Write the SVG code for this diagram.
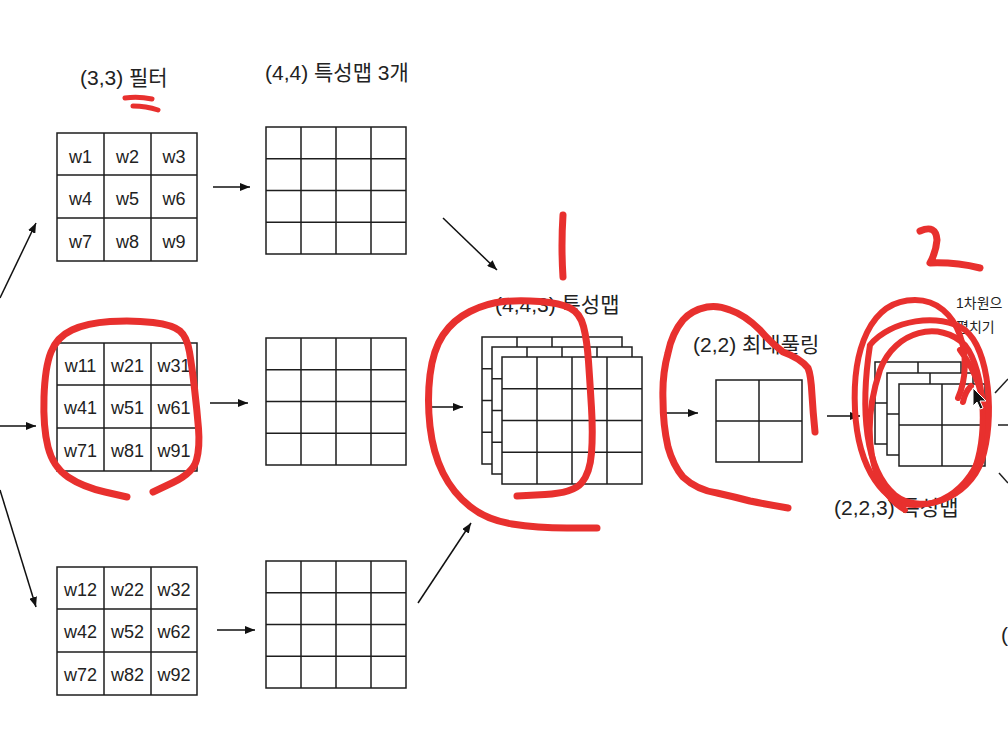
<svg xmlns="http://www.w3.org/2000/svg" xmlns:xlink="http://www.w3.org/1999/xlink" width="1008" height="744" viewBox="0 0 1008 744">
<style>
.t{font-family:"Liberation Sans","Noto Sans CJK KR",sans-serif;fill:#222}
.lbl{font-size:21px}
.cell{font-size:18px;text-anchor:middle}
.sm{font-size:14px}
.gl{fill:#fff;stroke:#1e1e1e;stroke-width:1.5}
.ln{stroke:#1e1e1e;stroke-width:1.5;fill:none}
.con{stroke:#111;stroke-width:1.5;fill:none;marker-end:url(#ah)}
.red{stroke:#e8302e;stroke-width:7;fill:none;stroke-linecap:round;stroke-linejoin:round}
</style>
<defs>
<marker id="ah" viewBox="0 0 10 8" refX="10" refY="4" markerWidth="10" markerHeight="8" markerUnits="userSpaceOnUse" orient="auto">
<path d="M0,0 L10,4 L0,8 Z" fill="#111"/>
</marker>
<g id="g44">
<rect class="gl" x="0" y="0" width="140" height="127"/>
<path class="ln" d="M35,0V127M70,0V127M105,0V127M0,31.75H140M0,63.5H140M0,95.25H140"/>
</g>
<g id="g22">
<rect class="gl" x="0" y="0" width="86" height="82"/>
<path class="ln" d="M43,0V82M0,41H86"/>
</g>
<g id="g33">
<rect class="gl" x="0" y="0" width="140" height="128"/>
<path class="ln" d="M47,0V128M94,0V128M0,42H140M0,85H140"/>
</g>
</defs>
<rect width="1008" height="744" fill="#fff"/>

<g id="titles">
<text class="t lbl" x="80" y="85">(3,3) 필터</text>
<text class="t lbl" x="265" y="80">(4,4) 특성맵 3개</text>
</g>

<g id="filter1">
<use xlink:href="#g33" x="57" y="133"/>
<text class="t cell" x="80.5" y="163">w1</text><text class="t cell" x="127.5" y="163">w2</text><text class="t cell" x="174" y="163">w3</text>
<text class="t cell" x="80.5" y="205">w4</text><text class="t cell" x="127.5" y="205">w5</text><text class="t cell" x="174" y="205">w6</text>
<text class="t cell" x="80.5" y="248">w7</text><text class="t cell" x="127.5" y="248">w8</text><text class="t cell" x="174" y="248">w9</text>
</g>
<g id="filter2">
<use xlink:href="#g33" x="57" y="343"/>
<text class="t cell" x="80.5" y="372">w11</text><text class="t cell" x="127.5" y="372">w21</text><text class="t cell" x="174" y="372">w31</text>
<text class="t cell" x="80.5" y="414">w41</text><text class="t cell" x="127.5" y="414">w51</text><text class="t cell" x="174" y="414">w61</text>
<text class="t cell" x="80.5" y="457">w71</text><text class="t cell" x="127.5" y="457">w81</text><text class="t cell" x="174" y="457">w91</text>
</g>
<g id="filter3">
<use xlink:href="#g33" x="57" y="567"/>
<text class="t cell" x="80.5" y="596">w12</text><text class="t cell" x="127.5" y="596">w22</text><text class="t cell" x="174" y="596">w32</text>
<text class="t cell" x="80.5" y="638">w42</text><text class="t cell" x="127.5" y="638">w52</text><text class="t cell" x="174" y="638">w62</text>
<text class="t cell" x="80.5" y="681">w72</text><text class="t cell" x="127.5" y="681">w82</text><text class="t cell" x="174" y="681">w92</text>
</g>

<g id="fmap1"><use xlink:href="#g44" x="266" y="127"/></g>
<g id="fmap2"><use xlink:href="#g44" x="266" y="338"/></g>
<g id="fmap3"><use xlink:href="#g44" x="266" y="561"/></g>

<g id="stack443">
<text class="t lbl" x="495" y="312">(4,4,3) 특성맵</text>
<use xlink:href="#g44" x="482" y="337"/>
<use xlink:href="#g44" x="492" y="347"/>
<use xlink:href="#g44" x="502" y="357"/>
</g>

<g id="pool22">
<text class="t lbl" x="693" y="352">(2,2) 최대풀링</text>
<use xlink:href="#g22" x="716" y="380"/>
</g>

<g id="stack223">
<use xlink:href="#g22" x="875" y="362"/>
<use xlink:href="#g22" x="887" y="373"/>
<use xlink:href="#g22" x="899" y="384"/>
<text class="t lbl" x="834" y="515">(2,2,3) 특성맵</text>
</g>

<g id="flatten">
<text class="t sm" x="956" y="308">1차원으</text>
<text class="t sm" x="956" y="332">펼치기</text>
<text class="t lbl" x="1001" y="642">(</text>
</g>

<g id="connectors">
<line class="con" x1="0" y1="298" x2="36" y2="223"/>
<line class="con" x1="0" y1="426" x2="36" y2="426"/>
<line class="con" x1="0" y1="490" x2="36" y2="607"/>
<line class="con" x1="213" y1="187" x2="250" y2="187"/>
<line class="con" x1="210" y1="403" x2="248" y2="403"/>
<line class="con" x1="217" y1="630" x2="255" y2="630"/>
<line class="con" x1="443" y1="218" x2="497" y2="270"/>
<line class="con" x1="432" y1="407" x2="463" y2="407"/>
<line class="con" x1="418" y1="603" x2="471" y2="523"/>
<line class="con" x1="661" y1="413" x2="698" y2="413"/>
<line class="con" x1="827" y1="416" x2="860" y2="416"/>
<line class="ln" x1="995" y1="393" x2="1008" y2="379"/>
<line class="ln" x1="998" y1="425" x2="1008" y2="425"/>
<line class="ln" x1="999" y1="473" x2="1008" y2="483"/>
</g>

<g id="annotations">
<path class="red" style="stroke-width:5" d="M125,98 Q138,96 152,99"/>
<path class="red" style="stroke-width:5" d="M133,106 Q146,106 158,110"/>
<path class="red" d="M127,497 L105,492 Q83,487 68,477 Q53,467 48,447 Q43,427 44,397 Q45,367 51,352 Q57,337 72,330 Q87,323 110,321.5 Q133,320 153,322.5 Q173,325 180,331 Q187,337 189.5,352 Q192,367 194.5,388.5 Q197,410 198.5,428.5 Q200,447 196.5,460 Q193,473 173,482.5 L153,492"/>
<path class="red" d="M563,215 Q561,246 563,277"/>
<path class="red" d="M517,496 L545,494.5 Q573,493 581.5,483 Q590,473 591.5,453 Q593,433 591.5,408 Q590,383 588.5,361.5 Q587,340 583.5,326.5 Q580,313 570,308 Q560,303 540,301.5 Q520,300 503.5,301.5 Q487,303 470,311.5 Q453,320 443,335 Q433,350 430,375 Q427,400 430,426.5 Q433,453 443,473 Q453,493 470,506.5 Q487,520 512,524 Q537,528 567,528 L597,528"/>
<path class="red" d="M815,432 Q813,412 812,395 Q811,375 808,368 Q800,358 783,352 Q770,342 760,330 Q745,315 730,310 Q718,305 707,307 Q692,310 683,320 Q672,333 668,353 Q662,375 663,400 Q663,425 668,447 Q673,465 683,477 Q697,490 717,493 Q735,497 750,501 Q770,505 788,508"/>
<path class="red" d="M920,231 Q936,224 937,240 Q936,252 930,263 Q955,262 980,268"/>
<path class="red" style="stroke-width:6" d="M958,398 C975,360 960,300 915,300 C870,300 852,350 855,410 C858,470 885,505 915,505 C955,505 985,470 985,425 C985,395 975,370 960,350"/>
<path class="red" style="stroke-width:6" d="M870,345 C890,320 940,312 965,330 C990,350 995,420 982,460 C968,500 920,515 895,495 C865,470 860,410 870,345"/>
<path class="red" style="stroke-width:6" d="M905,510 C870,490 860,430 880,370 C895,330 940,320 965,345 C985,370 990,440 970,480"/>
<path class="red" style="stroke-width:6" d="M963,402 Q965,392 971,386"/>
</g>

<g id="cursor">
<path d="M973,388 L973,406 L977,402 L980,409 L983,408 L980,401 L986,401 Z" fill="#111" stroke="#fff" stroke-width="1"/>
</g>
</svg>
